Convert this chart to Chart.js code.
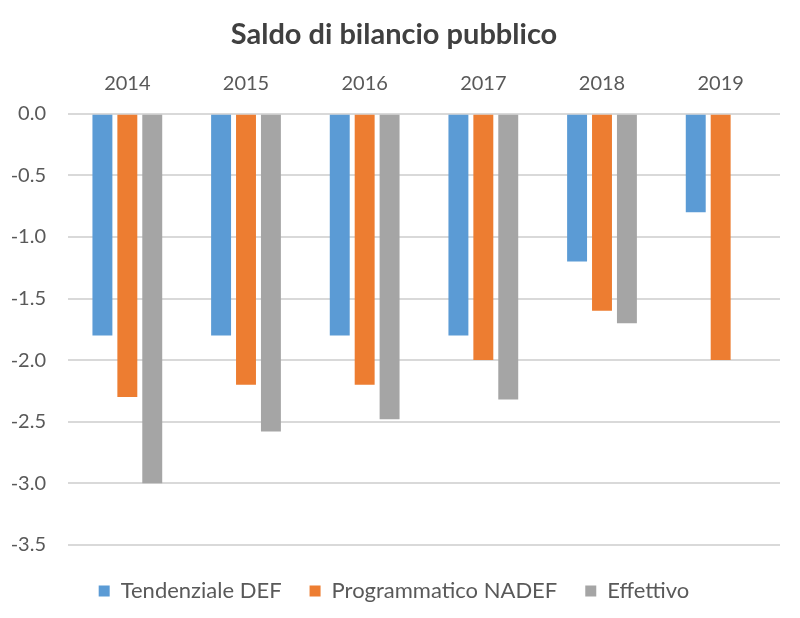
<!DOCTYPE html>
<html>
<head>
<meta charset="utf-8">
<script src="https://cdn.jsdelivr.net/npm/chart.js@4.4.1/dist/chart.umd.min.js"></script>
<style>
  html, body { margin: 0; padding: 0; background: #fff; }
  .wrap { width: 800px; height: 618px; }
</style>
</head>
<body>
<div class="wrap"><canvas id="chart"></canvas></div>
<script>
// years on the top axis
const years = ['2014', '2015', '2016', '2017', '2018', '2019'];

// saldo values (% of GDP)
const tendenzialeDef = [-1.8, -1.8, -1.8, -1.8, -1.2, -0.8];
const programmaticoNadef = [-2.3, -2.2, -2.2, -2.0, -1.6, -2.0];
const effettivo = [-3.0, -2.58, -2.48, -2.32, -1.7, null];

const seriesNames = ['Tendenziale DEF', 'Programmatico NADEF', 'Effettivo'];
const colors = ['#5B9BD5', '#ED7D31', '#A5A5A5'];

const textColor = '#595959';
const fontFamily = 'Lato, "Open Sans", sans-serif';

function makeDataset(i, values){
    return {
        label: seriesNames[i],
        data: values,
        backgroundColor: colors[i],
        borderWidth: 0,
        barPercentage: 0.8,
        categoryPercentage: 0.63
    };
}

new Chart(document.getElementById('chart'), {
    type: 'bar',
    data: {
        labels: years,
        datasets: [
            makeDataset(0, tendenzialeDef),
            makeDataset(1, programmaticoNadef),
            makeDataset(2, effettivo)
        ]
    },
    options: {
        responsive: true,
        maintainAspectRatio: false,
        animation: false,
        layout: { padding: { left: 8, right: 20, top: 12, bottom: 6 } },
        plugins: {
            title: {
                display: true,
                text: 'Saldo di bilancio pubblico',
                color: '#404040',
                font: { family: fontFamily, size: 29, weight: 'bold' },
                padding: { top: 5, bottom: 10 }
            },
            legend: {
                position: 'bottom',
                // empty title only adds a bit of space above the items
                title: { display: true, text: '', font: { size: 1 }, padding: { top: 3, bottom: 3 } },
                labels: {
                    color: textColor,
                    font: { family: fontFamily, size: 22 },
                    boxWidth: 11,
                    boxHeight: 11,
                    padding: 28
                }
            },
            tooltip: { enabled: false }
        },
        scales: {
            x: {
                position: 'top',
                grid: { display: false },
                border: { display: false },
                ticks: {
                    color: textColor,
                    font: { family: fontFamily, size: 20 },
                    padding: 10
                }
            },
            y: {
                min: -3.5,
                max: 0,
                afterFit: scale => { scale.width = 60; },
                grid: { color: '#D9D9D9', lineWidth: 2, drawTicks: false },
                border: { display: false },
                ticks: {
                    stepSize: 0.5,
                    color: textColor,
                    font: { family: fontFamily, size: 20 },
                    padding: 22,
                    callback: v => v.toFixed(1)
                }
            }
        }
    }
});
</script>
</body>
</html>
